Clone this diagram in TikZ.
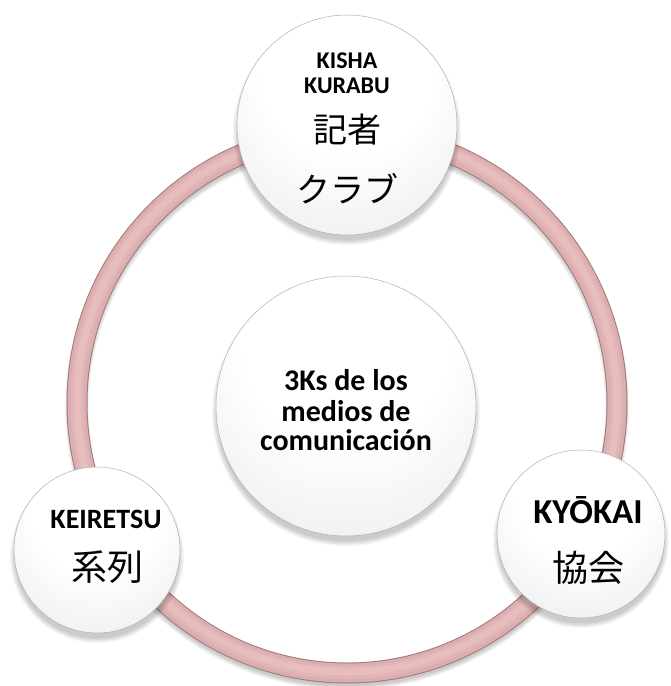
\documentclass[tikz,border=0pt]{standalone}
\usepackage{fontspec}
\setmainfont{Carlito}
\newfontfamily\jp{Noto Sans CJK JP}
\definecolor{ringdark}{HTML}{A07A7B}
\definecolor{ringmid}{HTML}{DBADAE}
\definecolor{ringlight}{HTML}{E8BDBE}
\definecolor{rimgray}{HTML}{B0B0B0}
\pgfdeclareradialshading{bubble}{\pgfpoint{0bp}{22bp}}{%
  color(0bp)=(white);
  color(20bp)=(white);
  color(42bp)=(black!9);
  color(48bp)=(black!16);
  color(50bp)=(black!28)}
\begin{document}
\begin{tikzpicture}[x=1pt,y=-1pt,
  bubble/.style={circle, draw=rimgray, line width=0.5pt, shading=bubble, inner sep=0pt},
  lat/.style={font=\bfseries\fontsize{#1}{#1}\selectfont, inner sep=0pt, anchor=base},
  jap/.style={font=\jp\fontsize{#1}{#1}\selectfont, inner sep=0pt}]
\useasboundingbox (0,0) rectangle (671,686);
\fill[white] (0,0) rectangle (671,686);
% ring
\coordinate (ringc) at (347,403);
\foreach \k in {0,...,4}
  \draw[black, opacity=0.045, line width={24pt-2*\k pt}] ([yshift=-5pt]ringc) circle[radius=270pt];
\draw[ringdark, line width=21pt] (ringc) circle[radius=270pt];
\draw[ringmid, line width=19pt] (ringc) circle[radius=270pt];
\draw[ringmid!50!ringlight, line width=13pt] ([yshift=0.5pt]ringc) circle[radius=270pt];
\draw[ringlight, line width=7pt] ([yshift=1pt]ringc) circle[radius=270pt];
% shadows
\foreach \cx/\cy/\r in {346/406/130, 347/125/110, 97/550/83, 581/534/84}{
  \foreach \k in {0,...,5}
    \fill[black, opacity=0.035] (\cx,\cy+6) circle[radius={(\r+4-\k)*1pt}];
}
% circles
\node[bubble, minimum size=260pt] (center) at (346,406) {};
\node[bubble, minimum size=220pt] (top) at (347,125) {};
\node[bubble, minimum size=166pt] (left) at (97,550) {};
\node[bubble, minimum size=168pt] (right) at (581,534) {};
% texts
\node[lat=30] (c1) at (346,390) {3Ks de los};
\node[lat=30] (c2) at (346,421) {medios de};
\node[lat=30] (c3) at (346,450) {comunicación};
\node[lat=24] (t1) at (347,68) {KISHA};
\node[lat=24] (t2) at (347,93) {KURABU};
\node[jap=34] (t3) at (347,130) {記者};
\node[jap=34] (t4) at (347,189) {クラブ};
\node[lat=28] (l1) at (106,528) {KEIRETSU};
\node[jap=36] (l2) at (107,567) {系列};
\node[lat=35] (r1) at (588,523) {KYŌKAI};
\node[jap=36] (r2) at (588,568) {協会};
\end{tikzpicture}
\end{document}
